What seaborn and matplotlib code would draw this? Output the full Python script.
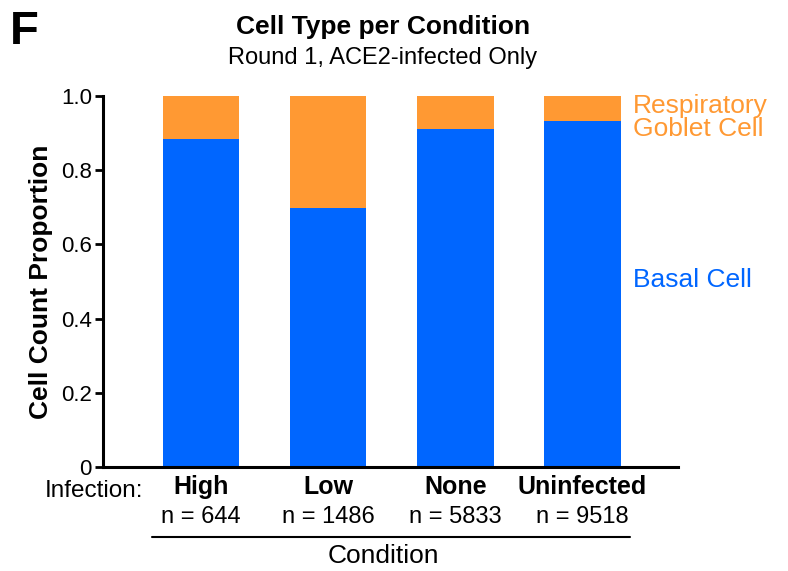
import matplotlib
matplotlib.use("Agg")
import matplotlib.pyplot as plt
import matplotlib.transforms as mtransforms
import numpy as np
import pandas as pd
import seaborn as sns

conditions = ["High", "Low", "None", "Uninfected"]
n_cells = [644, 1486, 5833, 9518]
basal = [0.885, 0.697, 0.912, 0.933]
goblet = [0.115, 0.303, 0.088, 0.067]

blue = "#0066ff"
orange = "#ff9933"

sns.set_style("ticks")
plt.rcParams["font.family"] = ["Liberation Sans", "DejaVu Sans"]
plt.rcParams["text.color"] = "black"
plt.rcParams["xtick.color"] = "black"
plt.rcParams["ytick.color"] = "black"
plt.rcParams["axes.labelcolor"] = "black"
plt.rcParams["axes.edgecolor"] = "black"

df = pd.DataFrame({"Condition": conditions, "Basal": basal,
                   "Total": np.array(basal) + np.array(goblet)})

fig = plt.figure(figsize=(7.88, 5.71), dpi=100)
ax = fig.add_axes([0.1307, 0.1821, 0.7297, 0.6498])

# stacked bars: draw total first, then basal on top
sns.barplot(data=df, x="Condition", y="Total", color=orange, width=0.6,
            saturation=1, linewidth=0, ax=ax)
sns.barplot(data=df, x="Condition", y="Basal", color=blue, width=0.6,
            saturation=1, linewidth=0, ax=ax)

ax.set_xlim(-0.77, 3.75)
ax.set_ylim(0, 1.0)
ax.set_yticks([0, 0.2, 0.4, 0.6, 0.8, 1.0])
ax.set_yticklabels(["0", "0.2", "0.4", "0.6", "0.8", "1.0"], fontsize=16)
ax.tick_params(axis="y", length=6, width=2, pad=2)
ax.tick_params(axis="x", length=0, pad=6)
ax.set_xticks(range(len(conditions)))
ax.set_xticklabels(conditions, fontsize=18, fontweight="bold")
for s in ["top", "right"]:
    ax.spines[s].set_visible(False)
ax.spines["left"].set_linewidth(2.2)
ax.spines["bottom"].set_linewidth(2.2)
ax.set_xlabel("")
ax.set_ylabel("Cell Count Proportion", fontsize=19, fontweight="bold", labelpad=6)

trans = mtransforms.blended_transform_factory(ax.transData, fig.transFigure)
for i, n in enumerate(n_cells):
    ax.text(i, 1 - 517 / 571, f"n = {n}", transform=trans, ha="center",
            va="center", fontsize=17)

fig.text(94 / 788, 1 - 491 / 571, "Infection:", ha="center", va="center",
         fontsize=17.5)
fig.add_artist(plt.Line2D([152 / 788, 630 / 788], [1 - 537 / 571] * 2,
                          color="black", lw=1.5))
fig.text(383 / 788, 1 - 556 / 571, "Condition", ha="center", va="center",
         fontsize=19)

# labels for the segments
fig.text(633 / 788, 1 - 106 / 571, "Respiratory", ha="left", va="center",
         fontsize=19, color=orange)
fig.text(633 / 788, 1 - 129 / 571, "Goblet Cell", ha="left", va="center",
         fontsize=19, color=orange)
fig.text(633 / 788, 1 - 280 / 571, "Basal Cell", ha="left", va="center",
         fontsize=19, color=blue)

fig.text(383 / 788, 1 - 27 / 571, "Cell Type per Condition", ha="center",
         va="center", fontsize=19, fontweight="bold")
fig.text(383 / 788, 1 - 58 / 571, "Round 1, ACE2-infected Only", ha="center",
         va="center", fontsize=17)
fig.text(10 / 788, 1 - 32 / 571, "F", ha="left", va="center", fontsize=34,
         fontweight="bold")

fig.savefig("out.png", dpi=100)
